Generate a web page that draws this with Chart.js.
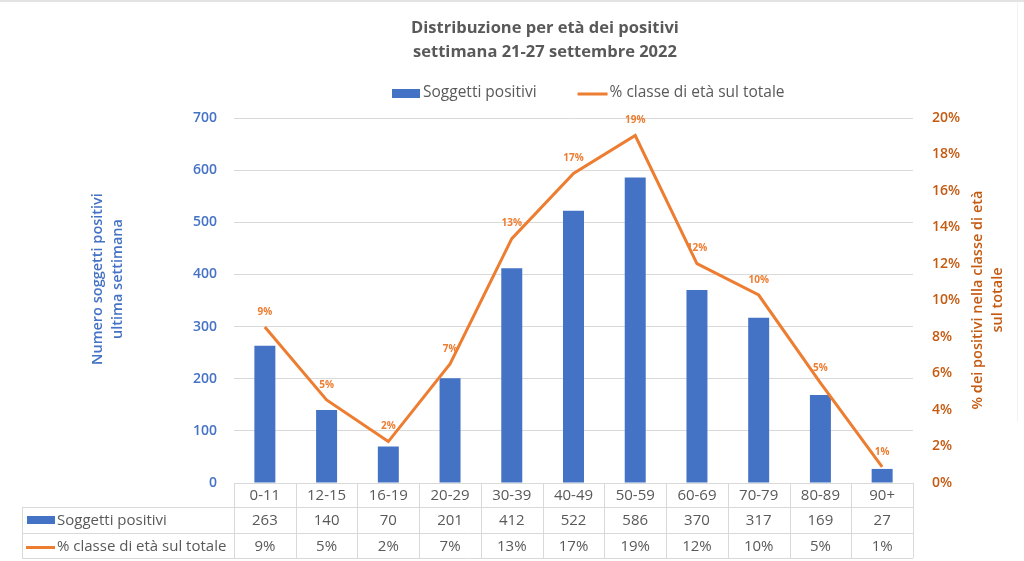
<!DOCTYPE html>
<html>
<head>
<meta charset="utf-8">
<script src="https://cdn.jsdelivr.net/npm/chart.js@4.4.0/dist/chart.umd.min.js"></script>
<style>
	html, body { margin: 0; padding: 0; background: #fff; }
</style>
</head>
<body>
<canvas id="chart" width="1024" height="561"></canvas>
<script>
	'use strict';

	var ageClasses = ['0-11', '12-15', '16-19', '20-29', '30-39', '40-49', '50-59', '60-69', '70-79', '80-89', '90+'];
	var positives = [263, 140, 70, 201, 412, 522, 586, 370, 317, 169, 27];
	var sharePct = [8.55, 4.55, 2.27, 6.53, 13.39, 16.96, 19.04, 12.02, 10.30, 5.49, 0.88];
	var titleLines = ['Distribuzione per età dei positivi', 'settimana 21-27 settembre 2022'];
	var leftTitle = ['Numero soggetti positivi', 'ultima settimana'];
	var rightTitle = ['% dei positivi nella classe di età', 'sul totale'];

	var BLUE = '#4472C4';
	var ORANGE = '#ED7D31';
	var DARK_ORANGE = '#C55A11';
	var GREY_TEXT = '#595959';
	var GRID = '#D9D9D9';
	var FONT = "'Open Sans', sans-serif";

	function pctLabel(v) {
		return Math.round(v) + '%';
	}

	// frame, title, legend and axis titles
	var decorations = {
		id: 'decorations',
		afterDraw: function (chart) {
			var ctx = chart.ctx;
			var area = chart.chartArea;
			var ds = chart.data.datasets;
			ctx.save();

			ctx.fillStyle = '#E3E3E3';
			ctx.fillRect(0, 0, chart.width, 2);
			ctx.fillStyle = '#F2F2F2';
			ctx.fillRect(1017, 2, 1, 420);

			// title
			ctx.font = 'bold 16.5px ' + FONT;
			ctx.fillStyle = GREY_TEXT;
			ctx.textAlign = 'center';
			ctx.textBaseline = 'middle';
			ctx.fillText(titleLines[0], 545, 28);
			ctx.fillText(titleLines[1], 545, 52);

			// legend
			ctx.font = '15.5px ' + FONT;
			ctx.textAlign = 'left';
			var x = 392;
			var ly = 93;
			ctx.fillStyle = BLUE;
			ctx.fillRect(x, ly - 4, 28, 9);
			x += 31;
			ctx.fillStyle = GREY_TEXT;
			ctx.fillText(ds[0].label, x, ly);
			x += ctx.measureText(ds[0].label).width + 41;
			ctx.strokeStyle = ORANGE;
			ctx.lineWidth = 3;
			ctx.beginPath();
			ctx.moveTo(x, ly + 1); ctx.lineTo(x + 30, ly + 1);
			ctx.stroke();
			x += 32;
			ctx.fillText(ds[1].label, x, ly);

			ctx.font = '600 14.5px ' + FONT;
			ctx.textAlign = 'center';

			ctx.fillStyle = BLUE;
			ctx.save();
			ctx.translate(108, area.top + 161);
			ctx.rotate(-Math.PI / 2);
			ctx.fillText(leftTitle[0], 0, -10);
			ctx.fillText(leftTitle[1], 0, 10);
			ctx.restore();

			ctx.fillStyle = DARK_ORANGE;
			ctx.save();
			ctx.translate(988, area.top + 182);
			ctx.rotate(-Math.PI / 2);
			ctx.fillText(rightTitle[0], 0, -10);
			ctx.fillText(rightTitle[1], 0, 10);
			ctx.restore();
			ctx.restore();
		}
	};

	// % labels above the line points
	var pointLabels = {
		id: 'pointLabels',
		afterDatasetsDraw: function (chart) {
			var ctx = chart.ctx;
			var meta = chart.getDatasetMeta(1);
			ctx.save();
			ctx.font = 'bold 10px ' + FONT;
			ctx.fillStyle = ORANGE;
			ctx.textAlign = 'center';
			ctx.textBaseline = 'middle';
			meta.data.forEach(function (pt, i) {
				ctx.fillText(pctLabel(sharePct[i]), pt.x, pt.y - 15);
			});
			ctx.restore();
		}
	};

	// data table under the plot
	var dataTable = {
		id: 'dataTable',
		afterDraw: function (chart) {
			var ctx = chart.ctx;
			var area = chart.chartArea;
			var xs = chart.scales.x;
			var n = ageClasses.length;
			var colW = (area.right - area.left) / n;
			var top = area.bottom;
			var rowH = [24, 26, 25];
			var r1 = top + rowH[0];
			var r2 = r1 + rowH[1];
			var r3 = r2 + rowH[2];
			var leftX = 22;

			ctx.save();
			ctx.strokeStyle = GRID;
			ctx.lineWidth = 1;
			ctx.beginPath();
			ctx.moveTo(area.left, top + 0.5); ctx.lineTo(area.right, top + 0.5);
			[r1, r2, r3].forEach(function (y) {
				ctx.moveTo(leftX, Math.round(y) + 0.5); ctx.lineTo(area.right, Math.round(y) + 0.5);
			});
			for (var i = 0; i <= n; i++) {
				var x = Math.round(area.left + i * colW) + 0.5;
				ctx.moveTo(x, top); ctx.lineTo(x, r3);
			}
			ctx.moveTo(leftX + 0.5, r1); ctx.lineTo(leftX + 0.5, r3);
			ctx.stroke();

			ctx.font = '15px ' + FONT;
			ctx.fillStyle = GREY_TEXT;
			ctx.textAlign = 'center';
			ctx.textBaseline = 'middle';
			ageClasses.forEach(function (lab, i) {
				var cx = xs.getPixelForValue(i);
				ctx.fillText(lab, cx, top + rowH[0] / 2 + 1);
				ctx.fillText(String(positives[i]), cx, r1 + rowH[1] / 2 + 1);
				ctx.fillText(pctLabel(sharePct[i]), cx, r2 + rowH[2] / 2 + 1);
			});

			ctx.fillStyle = BLUE;
			ctx.fillRect(27, r1 + rowH[1] / 2 - 4, 28, 8);
			ctx.strokeStyle = ORANGE;
			ctx.lineWidth = 3;
			ctx.beginPath();
			ctx.moveTo(26, r2 + rowH[2] / 2 + 2);
			ctx.lineTo(55, r2 + rowH[2] / 2 + 2);
			ctx.stroke();

			ctx.fillStyle = GREY_TEXT;
			ctx.textAlign = 'left';
			ctx.fillText(chart.data.datasets[0].label, 57, r1 + rowH[1] / 2 + 1);
			ctx.fillText(chart.data.datasets[1].label, 57, r2 + rowH[2] / 2 + 1);
			ctx.restore();
		}
	};

	new Chart(document.getElementById('chart'), {
		type: 'bar',
		data: {
			labels: ageClasses,
			datasets: [{
				type: 'bar',
				label: 'Soggetti positivi',
				data: positives,
				backgroundColor: BLUE,
				barPercentage: 0.34,
				categoryPercentage: 1,
				yAxisID: 'y',
				order: 1
			}, {
				type: 'line',
				label: '% classe di età sul totale',
				data: sharePct,
				borderColor: ORANGE,
				backgroundColor: ORANGE,
				borderWidth: 3,
				pointRadius: 0,
				tension: 0,
				yAxisID: 'y1',
				order: 0
			}]
		},
		options: {
			responsive: false,
			animation: false,
			layout: { padding: { top: 118, left: 0, right: 0, bottom: 78 } },
			plugins: {
				title: { display: false },
				legend: { display: false },
				tooltip: { enabled: false }
			},
			scales: {
				x: {
					grid: { display: false },
					border: { display: false },
					ticks: { display: false },
					afterFit: function (s) { s.height = 0; }
				},
				y: {
					position: 'left',
					min: 0,
					max: 700,
					ticks: {
						stepSize: 100,
						color: BLUE,
						padding: 17,
						font: { family: FONT, size: 14, weight: '600' }
					},
					grid: { color: GRID, drawTicks: false },
					border: { display: false },
					afterFit: function (s) { s.width = 234; }
				},
				y1: {
					position: 'right',
					min: 0,
					max: 20,
					ticks: {
						stepSize: 2,
						color: DARK_ORANGE,
						padding: 19,
						font: { family: FONT, size: 14, weight: '600' },
						callback: function (v) { return v + '%'; }
					},
					grid: { display: false, drawTicks: false },
					border: { display: false },
					afterFit: function (s) { s.width = 111; }
				}
			}
		},
		plugins: [decorations, pointLabels, dataTable]
	});
</script>
</body>
</html>
